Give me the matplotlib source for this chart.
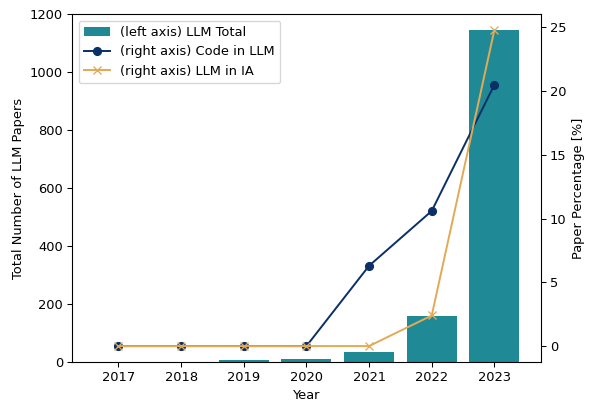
import matplotlib.pyplot as plt

# yearly counts
years = ['2017', '2018', '2019', '2020', '2021', '2022', '2023']
llm_total = [0, 0, 5, 10, 34, 160, 1145]
code_in_llm = [0, 0, 0, 0, 6.3, 10.6, 20.5]
llm_in_ia = [0, 0, 0, 0, 0, 2.4, 24.8]

fig, ax = plt.subplots(figsize=(591 / 94, 403 / 94), dpi=94)
x = range(len(years))
bars = ax.bar(x, llm_total, width=0.8, color='#1f8a96', label='(left axis) LLM Total')
ax.set_xticks(list(x))
ax.set_xticklabels(years)
ax.set_xlabel('Year')
ax.set_ylabel('Total Number of LLM Papers')
ax.set_ylim(0, 1200)

ax2 = ax.twinx()
l1, = ax2.plot(x, code_in_llm, marker='o', color='#0b3068', label='(right axis) Code in LLM')
l2, = ax2.plot(x, llm_in_ia, marker='x', color='#e3aa55', label='(right axis) LLM in IA')
ax2.set_ylabel('Paper Percentage [%]')

ax.legend(handles=[bars, l1, l2], loc='upper left')

fig.subplots_adjust(left=0.122, right=0.915, top=0.965, bottom=0.102)
fig.savefig('out.png', dpi=94)
